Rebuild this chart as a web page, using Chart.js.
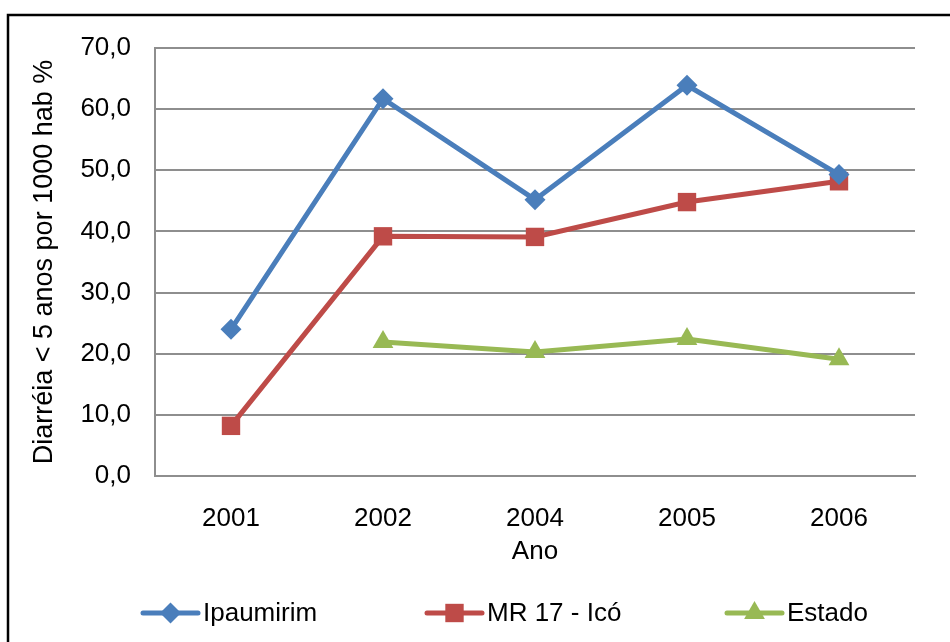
<!DOCTYPE html>
<html>
<head>
<meta charset="utf-8">
<script src="https://cdn.jsdelivr.net/npm/chart.js@4/dist/chart.umd.min.js"></script>
<style>
  html, body { margin: 0; padding: 0; background: #fff; }
  #c { display: block; }
</style>
</head>
<body>
<canvas id="c" width="950" height="642"></canvas>
<script>
const categories = ['2001', '2002', '2004', '2005', '2006'];
const ipaumirim = [24.0, 61.7, 45.2, 63.9, 49.3];
const mr17 = [8.2, 39.2, 39.1, 44.8, 48.2];
const estado = [null, 21.9, 20.3, 22.4, 19.1];
const seriesNames = ['Ipaumirim', 'MR 17 - Icó', 'Estado'];
const yTitle = 'Diarréia < 5 anos por 1000 hab %';
const xTitle = 'Ano';

const FONT = "'Liberation Sans', Arial, Helvetica, sans-serif";
const BLUE = '#4A7EBB', RED = '#BE4B48', GREEN = '#98B954';
const GRID = '#8e8e8e';

function drawMarker(ctx, style, r, x, y, color) {
  ctx.save();
  ctx.fillStyle = color;
  ctx.beginPath();
  if (style === 'rectRot') {
    ctx.moveTo(x - r, y); ctx.lineTo(x, y - r); ctx.lineTo(x + r, y); ctx.lineTo(x, y + r);
  } else if (style === 'rect') {
    const s = r * Math.SQRT1_2;
    ctx.rect(x - s, y - s, 2 * s, 2 * s);
  } else if (style === 'triangle') {
    for (let i = 0; i < 3; i++) {
      const a = i * 2 * Math.PI / 3;
      const px = x + Math.sin(a) * r, py = y - Math.cos(a) * r;
      if (i === 0) ctx.moveTo(px, py); else ctx.lineTo(px, py);
    }
  }
  ctx.closePath();
  ctx.fill();
  ctx.restore();
}

const framePlugin = {
  id: 'frame',
  afterDraw(chart) {
    const ctx = chart.ctx;
    ctx.save();
    ctx.strokeStyle = '#000';
    ctx.lineWidth = 2.5;
    ctx.strokeRect(8, 15, 1000, 700);
    ctx.restore();
  }
};

const legendPlugin = {
  id: 'customLegend',
  afterDraw(chart) {
    const ctx = chart.ctx;
    const starts = [143, 427, 727];
    const y = 613;
    ctx.save();
    chart.data.datasets.forEach((ds, i) => {
      const x1 = starts[i], x2 = x1 + 55;
      ctx.strokeStyle = ds.borderColor;
      ctx.lineWidth = ds.borderWidth;
      ctx.lineCap = 'round';
      ctx.beginPath(); ctx.moveTo(x1, y); ctx.lineTo(x2, y); ctx.stroke();
      drawMarker(ctx, ds.pointStyle, ds.pointRadius, (x1 + x2) / 2, y, ds.pointBackgroundColor);
      ctx.fillStyle = '#000';
      ctx.font = '26px ' + FONT;
      ctx.textBaseline = 'middle';
      ctx.textAlign = 'left';
      ctx.fillText(ds.label, x2 + 5, y + 1);
    });
    ctx.restore();
  }
};

const mk = (label, data, color, style, r) => ({
  label, data,
  borderColor: color, backgroundColor: color,
  pointBackgroundColor: color, pointBorderColor: color,
  pointStyle: style, pointRadius: r, pointBorderWidth: 0, pointHoverRadius: r,
  borderWidth: 5, tension: 0, fill: false, spanGaps: false
});

new Chart(document.getElementById('c'), {
  type: 'line',
  data: {
    labels: categories,
    datasets: [
      mk(seriesNames[0], ipaumirim, BLUE, 'rectRot', 10.5),
      mk(seriesNames[1], mr17, RED, 'rect', 13),
      mk(seriesNames[2], estado, GREEN, 'triangle', 12)
    ]
  },
  options: {
    responsive: false,
    animation: false,
    devicePixelRatio: 1,
    layout: { padding: { left: 28, top: 48, right: 35, bottom: 75 } },
    plugins: { legend: { display: false }, tooltip: { enabled: false } },
    scales: {
      x: {
        offset: true,
        grid: { display: false, drawTicks: false },
        border: { display: true, color: GRID, width: 2 },
        ticks: { color: '#000', font: { family: FONT, size: 26 }, padding: 27, maxRotation: 0 },
        title: { display: true, text: xTitle, color: '#000', font: { family: FONT, size: 26 }, padding: { top: 0, bottom: 0 } },
        afterFit(scale) { scale.height = 91; }
      },
      y: {
        min: 0, max: 70,
        grid: { color: GRID, lineWidth: 2, drawTicks: false },
        border: { display: true, color: GRID, width: 2 },
        ticks: {
          stepSize: 10, color: '#000', font: { family: FONT, size: 26 }, padding: 24,
          callback: v => v.toFixed(1).replace('.', ',')
        },
        title: { display: true, text: yTitle, color: '#000', font: { family: FONT, size: 27 }, padding: { top: 0, bottom: 0 } },
        afterFit(scale) { scale.width = 127; }
      }
    }
  },
  plugins: [framePlugin, legendPlugin]
});
</script>
</body>
</html>
